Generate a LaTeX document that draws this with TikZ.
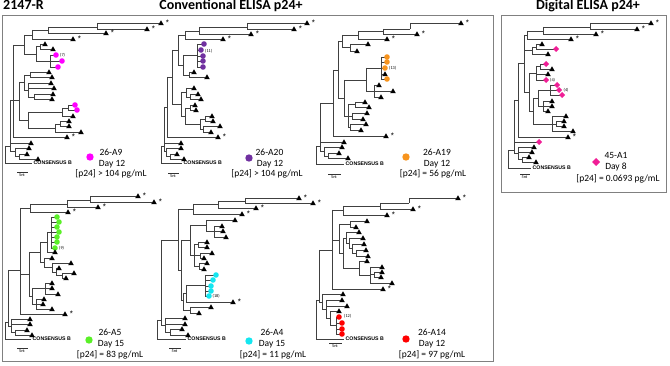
\documentclass[tikz,border=0pt]{standalone}
\usepackage{fontspec}
\setmainfont{Carlito}
\newfontfamily\arialf{Liberation Sans}
\definecolor{mag}{RGB}{255,0,255}
\definecolor{purp}{RGB}{112,48,160}
\definecolor{orng}{RGB}{247,148,30}
\definecolor{grn}{RGB}{90,240,40}
\definecolor{cyn}{RGB}{20,230,240}
\definecolor{rd}{RGB}{255,0,0}
\definecolor{dpink}{RGB}{240,30,150}
\newcounter{nd}
\newcommand\nm{\stepcounter{nd}}
\newcommand\trV[3]{\draw[br] (#1,#2) -- (#1,#3);}
\newcommand\trH[3]{\draw[br] (#1,#3) -- (#2,#3);}
\newcommand\mkT[2]{\fill[black] (#1,#2) ++(-2.8,2.2) -- ++(5.6,0) -- ++(-2.8,-4.9) -- cycle;}
\newcommand\lfT[3]{\draw[br] (#1,#2) -- (#3-2.5,#2);\mkT{#3}{#2}}
\newcommand\lfS[3]{\lfT{#1}{#2}{#3}\nm\node[st] (s\arabic{nd}) at (#3+6.5,#2-0.6) {*};}
\newcommand\lfC[4]{\draw[br] (#1,#2) -- (#3-2.5,#2);\fill[#4] (#3,#2) circle (2.8);}
\newcommand\lfD[3]{\draw[br] (#1,#2) -- (#3-2.5,#2);\fill[dpink] (#3,#2) ++(0,-3) -- ++(3,3) -- ++(-3,3) -- ++(-3,-3) -- cycle;}
\newcommand\cons[3]{\trH{#1}{#2}{#3}\nm\node[cons] (c\arabic{nd}) at (#2+1.5,#3) {CONSENSUS B};}
\newcommand\sbar[3]{\draw[black!80,line width=0.5pt] (#1,#3+1.2) -- (#1,#3) -- (#2,#3) -- (#2,#3+1.2);\nm\node[tinyl] (b\arabic{nd}) at ({(#1+#2)/2},#3+3) {5nt};}
\newcommand\cnt[3]{\nm\node[tinyl,anchor=west] (k\arabic{nd}) at (#1,#2) {#3};}
\tikzset{
 br/.style={draw=black!75, line width=0.65pt},
 st/.style={inner sep=0pt, font=\arialf\fontsize{8}{8}\selectfont},
 tinyl/.style={inner sep=0pt, font=\fontsize{4.3}{4.3}\selectfont},
 cons/.style={inner sep=0pt, anchor=west, font=\arialf\fontsize{5.2}{5.2}\selectfont\bfseries},
 leg/.style={inner sep=0pt, anchor=base, font=\fontsize{9.5}{10}\selectfont},
 ttl/.style={inner sep=0pt, anchor=base, font=\fontsize{14}{14}\selectfont\bfseries},
 frame/.style={draw=black!50, line width=1pt},
}
\begin{document}
\begin{tikzpicture}[x=1pt,y=-1pt]
\useasboundingbox (0,0) rectangle (670,366);
\draw[frame] (2,16) rectangle (493,362);
\draw[frame] (501,16) rectangle (666,193);
\node[ttl] (t1) at (23.5,10) {2147-R};
\node[ttl] (t2) at (231,10) {Conventional ELISA p24+};
\node[ttl] (t3) at (588,10) {Digital ELISA p24+};
% ---------- Panel A : 26-A9
\trV{97}{23}{29}\lfS{97}{23}{161}\lfS{97}{29}{147}
\trV{48}{27}{33}\trH{48}{97}{27}\lfS{48}{33}{106}
\trV{32}{30}{39}\trH{32}{48}{30}\lfS{32}{39}{73}
\trV{40}{44}{49}\lfT{40}{44}{45}\lfT{40}{49}{53}
\trV{50}{55}{67}\lfC{50}{55}{56}{mag}\lfC{50}{61}{62}{mag}\lfC{50}{67}{58}{mag}
\cnt{60}{55}{(7)}
\trV{36}{46}{61}\trH{36}{40}{46}\trH{36}{50}{61}
\trV{24}{35}{54}\trH{24}{32}{35}\trH{24}{36}{54}
\trV{30}{72}{77}\lfT{30}{72}{49}\lfT{30}{77}{52}
\trV{34}{94}{99}\lfT{34}{94}{53}\lfT{34}{99}{52}
\trV{28}{83}{97}\lfT{28}{83}{51}\lfT{28}{88}{54}\trH{28}{34}{97}
\trV{24}{75}{90}\trH{24}{30}{75}\trH{24}{28}{90}
\trV{68}{105}{110}\lfC{68}{105}{75}{mag}\lfC{68}{110}{77}{mag}
\trV{62}{108}{116}\trH{62}{68}{108}\lfT{62}{116}{73}
\trV{60}{121}{126}\lfT{60}{121}{69}\lfT{60}{126}{69}
\trV{55}{124}{132}\trH{55}{60}{124}\lfT{55}{132}{81}
\trV{28}{112}{128}\trH{28}{62}{112}\trH{28}{55}{128}
\trV{19}{82}{120}\trH{19}{24}{82}\trH{19}{28}{120}
\trV{13}{45}{137}\trH{13}{24}{45}\trH{13}{19}{100}\lfS{13}{137}{67}
\trV{19}{154}{159}\lfT{19}{154}{27}\lfT{19}{159}{38}
\trV{15}{148}{156}\lfT{15}{148}{29}\trH{15}{19}{156}
\trV{10}{100}{151}\trH{10}{13}{100}\lfT{10}{143}{31}\trH{10}{15}{151}
\trV{5}{146}{163}\trH{5}{10}{146}\cons{5}{32}{163}
\sbar{17}{27}{172}
\fill[mag] (90,157) circle (3.7);
\node[leg] (a1) at (111,156) {26-A9};
\node[leg] (a2) at (112,166.5) {Day 12};
\node[leg] (a3) at (111,177) {[p24] > 104 pg/mL};
% ---------- Panel B : 26-A20
\trV{247}{23}{29}\lfS{247}{23}{307}\lfS{247}{29}{294}
\trV{199}{27}{34}\trH{199}{247}{27}\lfS{199}{34}{251}
\trV{185}{31}{39}\trH{185}{199}{31}\lfS{185}{39}{223}
\trV{197}{44}{67}\lfC{197}{44}{204}{purp}\lfC{197}{50}{201}{purp}\lfC{197}{56}{203}{purp}\lfC{197}{61}{203}{purp}\lfC{197}{67}{203}{purp}
\cnt{205}{51}{(11)}
\trV{189}{72}{77}\lfT{189}{72}{194}\lfT{189}{77}{207}
\trV{183}{55}{75}\trH{183}{197}{55}\trH{183}{189}{75}
\trV{190}{94}{99}\lfT{190}{94}{198}\lfT{190}{99}{201}
\trV{186}{88}{97}\lfT{186}{88}{194}\trH{186}{190}{97}
\trV{190}{105}{110}\lfT{190}{105}{195}\lfT{190}{110}{196}
\trV{205}{116}{121}\lfT{205}{116}{212}\lfT{205}{121}{213}
\trV{203}{126}{132}\lfT{203}{126}{220}\lfT{203}{132}{211}
\trV{200}{119}{129}\trH{200}{205}{119}\trH{200}{203}{129}
\trV{185}{108}{124}\trH{185}{190}{108}\trH{185}{200}{124}
\trV{181}{92}{116}\trH{181}{186}{92}\trH{181}{185}{116}
\trV{178}{35}{65}\trH{178}{185}{35}\trH{178}{183}{65}
\trV{172}{50}{104}\trH{172}{178}{50}\trH{172}{181}{104}
\trV{167}{77}{137}\trH{167}{172}{77}\lfS{167}{137}{218}
\trV{170}{154}{159}\lfT{170}{154}{177}\lfT{170}{159}{184}
\trV{166}{148}{156}\lfT{166}{148}{181}\trH{166}{170}{156}
\trV{164}{107}{151}\trH{164}{167}{107}\lfT{164}{143}{181}\trH{164}{166}{151}
\trV{161}{146}{163}\trH{161}{164}{146}\cons{161}{182}{163}
\sbar{168}{178}{173}
\fill[purp] (249,158) circle (3.7);
\node[leg] (b1) at (269.5,156) {26-A20};
\node[leg] (b2) at (270,166.5) {Day 12};
\node[leg] (b3) at (267,177) {[p24] > 104 pg/mL};
% ---------- Panel C : 26-A19
\trH{383}{410}{29}\trV{410}{23}{29}\lfS{410}{23}{461}
\trV{383}{29}{34}\lfS{383}{34}{417}
\trV{358}{31}{39}\trH{358}{383}{31}\lfS{358}{39}{387}
\trV{350}{44}{51}\lfT{350}{44}{368}\lfT{350}{51}{357}
\trV{342}{35}{47}\trH{342}{358}{35}\trH{342}{350}{47}
\trV{381}{57}{79}\lfC{381}{57}{387}{orng}\lfC{381}{62}{387}{orng}\lfC{381}{68}{385}{orng}\lfT{381}{74}{385}\lfC{381}{79}{387}{orng}
\cnt{389}{68}{(13)}
\trV{374}{85}{97}\lfT{374}{85}{379}\lfT{374}{91}{393}\lfT{374}{97}{381}
\trV{366}{68}{91}\trH{366}{381}{68}\trH{366}{374}{91}
\trV{355}{102}{107}\lfT{355}{102}{365}\lfT{355}{107}{369}
\trV{352}{113}{119}\lfT{352}{113}{367}\lfT{352}{119}{363}
\trV{350}{124}{130}\lfT{350}{124}{366}\lfT{350}{130}{361}
\trV{348}{104}{127}\trH{348}{355}{104}\trH{348}{352}{116}\trH{348}{350}{127}
\trV{344}{80}{116}\trH{344}{366}{80}\trH{344}{348}{116}
\trV{338}{41}{98}\trH{338}{342}{41}\trH{338}{344}{98}
\trV{333}{70}{136}\trH{333}{338}{70}\lfS{333}{136}{386}
\trV{328}{153}{158}\lfT{328}{153}{339}\lfT{328}{158}{348}
\trV{324}{147}{156}\lfT{324}{147}{342}\trH{324}{328}{156}
\trV{320}{103}{151}\trH{320}{333}{103}\lfT{320}{142}{344}\trH{320}{324}{151}
\trV{316}{146}{164}\trH{316}{320}{146}\cons{316}{344}{164}
\sbar{328}{340}{174}
\fill[orng] (406,157) circle (3.7);
\node[leg] (c1) at (437,156) {26-A19};
\node[leg] (c2) at (437,166.5) {Day 12};
\node[leg] (c3) at (433,177) {[p24] = 56 pg/mL};
% ---------- Panel D : 26-A5
\trV{90}{196}{202}\lfS{90}{196}{138}\lfS{90}{202}{154}
\trV{67}{200}{207}\trH{67}{90}{200}\lfS{67}{207}{98}
\trV{30}{204}{212}\trH{30}{67}{204}\lfS{30}{212}{68}
\trV{51}{217}{248}\lfC{51}{217}{57}{grn}\lfC{51}{222}{59}{grn}\lfC{51}{227}{57}{grn}\lfC{51}{232}{59}{grn}\lfC{51}{237}{57}{grn}\lfC{51}{242}{57}{grn}\lfC{51}{248}{55}{grn}
\cnt{59}{248}{(9)}
\trV{47}{232}{252}\trH{47}{51}{232}\lfT{47}{252}{55}
\trV{62}{273}{278}\lfT{62}{273}{74}\lfT{62}{278}{66}
\trV{56}{268}{275}\lfT{56}{268}{59}\trH{56}{62}{275}
\trV{52}{263}{272}\lfT{52}{263}{71}\trH{52}{56}{272}
\trV{44}{258}{267}\lfT{44}{258}{52}\trH{44}{52}{267}
\trV{40}{242}{262}\trH{40}{47}{242}\trH{40}{44}{262}
\trV{45}{283}{294}\lfT{45}{283}{52}\lfT{45}{288}{52}\lfT{45}{294}{58}
\trV{36}{299}{309}\lfT{36}{299}{44}\lfT{36}{304}{43}\lfT{36}{309}{52}
\trV{32}{288}{304}\trH{32}{45}{288}\trH{32}{36}{304}
\trV{29}{252}{296}\trH{29}{40}{252}\trH{29}{32}{296}
\trV{20}{208}{314}\trH{20}{30}{208}\trH{20}{29}{274}\lfS{20}{314}{65}
\trV{15}{330}{335}\lfT{15}{330}{27}\lfT{15}{335}{32}
\trV{11}{319}{332}\lfT{11}{319}{30}\lfT{11}{324}{30}\trH{11}{15}{332}
\trV{8}{270}{326}\trH{8}{20}{270}\trH{8}{11}{326}
\trV{5}{322}{339}\trH{5}{8}{322}\cons{5}{31}{339}
\sbar{17}{27}{348}
\fill[grn] (89,340) circle (3.7);
\node[leg] (d1) at (110,336) {26-A5};
\node[leg] (d2) at (111,347) {Day 15};
\node[leg] (d3) at (110,358) {[p24] = 83 pg/mL};
% ---------- Panel E : 26-A4
\trV{245}{198}{203}\lfS{245}{198}{299}\lfS{245}{203}{313}
\trV{218}{201}{208}\trH{218}{245}{201}\lfS{218}{208}{256}
\trV{193}{204}{214}\trH{193}{218}{204}\lfS{193}{214}{242}
\trV{214}{226}{237}\lfT{214}{226}{222}\lfT{214}{231}{223}\lfT{214}{237}{226}
\trV{206}{220}{231}\lfT{206}{220}{235}\trH{206}{214}{231}
\trV{198}{242}{247}\lfT{198}{242}{207}\lfT{198}{247}{207}
\trV{200}{253}{258}\lfT{200}{253}{212}\lfT{200}{258}{204}
\trV{199}{263}{269}\lfT{199}{263}{207}\lfT{199}{269}{204}
\trV{194}{244}{266}\trH{194}{198}{244}\trH{194}{200}{255}\trH{194}{199}{266}
\trV{190}{225}{255}\trH{190}{206}{225}\trH{190}{194}{255}
\trV{205}{275}{296}\lfC{205}{275}{216}{cyn}\lfC{205}{280}{213}{cyn}\lfC{205}{286}{211}{cyn}\lfC{205}{291}{211}{cyn}\lfC{205}{296}{209}{cyn}
\cnt{212.5}{296}{(18)}
\trV{186}{285}{302}\trH{186}{205}{285}\lfS{186}{302}{233}
\trV{190}{307}{313}\lfT{190}{307}{211}\lfT{190}{313}{199}
\trV{183}{293}{310}\trH{183}{186}{293}\trH{183}{190}{310}
\trV{181}{240}{300}\trH{181}{190}{240}\trH{181}{183}{300}
\trV{178}{209}{270}\trH{178}{193}{209}\trH{178}{181}{270}
\trV{170}{329}{335}\lfT{170}{329}{182}\lfT{170}{335}{188}
\trV{165}{318}{332}\lfT{165}{318}{185}\lfT{165}{324}{185}\trH{165}{170}{332}
\trV{161}{240}{325}\trH{161}{178}{240}\trH{161}{165}{325}
\trV{157}{320}{339}\trH{157}{161}{320}\cons{157}{186}{339}
\sbar{169}{180}{348}
\fill[cyn] (249,341) circle (3.7);
\node[leg] (e1) at (272,336) {26-A4};
\node[leg] (e2) at (272,347) {Day 15};
\node[leg] (e3) at (273,358) {[p24] = 11 pg/mL};
% ---------- Panel F : 26-A14
\trV{409}{198}{203}\lfS{409}{198}{458}\trH{380}{409}{203}
\trV{380}{203}{209}\lfS{380}{209}{413}
\trV{343}{206}{215}\trH{343}{380}{206}\lfS{343}{215}{387}
\trV{350}{221}{227}\lfT{350}{221}{367}\lfT{350}{227}{356}
\trV{356}{250}{256}\lfT{356}{250}{366}\lfT{356}{256}{368}
\trV{352}{244}{253}\lfT{352}{244}{364}\trH{352}{356}{253}
\trV{349}{238}{248}\lfT{349}{238}{363}\trH{349}{352}{248}
\trV{346}{232}{243}\lfT{346}{232}{359}\trH{346}{349}{243}
\trV{374}{272}{277}\lfT{374}{272}{382}\lfT{374}{277}{381}
\trV{370}{267}{283}\lfT{370}{267}{382}\trH{370}{374}{274}\lfT{370}{283}{392}
\trV{359}{261}{275}\lfT{359}{261}{367}\trH{359}{370}{275}
\trV{343}{238}{268}\trH{343}{346}{238}\trH{343}{359}{268}
\trV{339}{224}{253}\trH{339}{350}{224}\trH{339}{343}{253}
\trV{332}{210}{289}\trH{332}{343}{210}\trH{332}{339}{240}\lfS{332}{289}{383}
\trV{336}{317}{334}\lfC{336}{317}{339}{rd}\lfC{336}{323}{342}{rd}\lfC{336}{329}{342}{rd}\lfC{336}{334}{342}{rd}
\cnt{344}{316}{(12)}
\trV{330}{311}{325}\lfT{330}{311}{339}\trH{330}{336}{325}
\trV{326}{300}{318}\lfT{326}{300}{342}\lfT{326}{306}{347}\trH{326}{330}{318}
\trV{322}{294}{309}\lfT{322}{294}{343}\trH{322}{326}{309}
\trV{319}{250}{302}\trH{319}{332}{250}\trH{319}{322}{302}
\trV{316}{300}{339}\trH{316}{319}{300}\cons{316}{344}{339}
\sbar{329}{341}{343}
\fill[rd] (406,339) circle (3.7);
\node[leg] (f1) at (432,335) {26-A14};
\node[leg] (f2) at (432,346) {Day 12};
\node[leg] (f3) at (432,357) {[p24] = 97 pg/mL};
% ---------- Panel G : 45-A1 (digital)
\trV{590}{23}{29}\lfS{590}{23}{651}\lfS{590}{29}{637}
\trV{543}{27}{34}\trH{543}{590}{27}\lfS{543}{34}{596}
\trV{527}{31}{39}\trH{527}{543}{31}\lfS{527}{39}{571}
\trV{536}{44}{49}\lfT{536}{44}{542}\lfD{536}{49}{556}
\trV{532}{47}{54}\trH{532}{536}{47}\lfT{532}{54}{548}
\trV{540}{64}{69}\lfD{540}{64}{546}\lfT{540}{69}{552}
\trV{536}{66}{80}\trH{536}{540}{66}\lfT{536}{74}{548}\lfD{536}{80}{546}
\cnt{550}{80}{(4)}
\trV{550}{85}{95}\lfD{550}{85}{557}\lfD{550}{90}{559}\lfD{550}{95}{562}
\cnt{563.5}{90}{(4)}
\trV{543}{101}{111}\lfT{543}{101}{552}\lfT{543}{106}{552}\lfT{543}{111}{548}
\trV{538}{90}{106}\trH{538}{550}{90}\trH{538}{543}{106}
\trV{556}{121}{126}\lfT{556}{121}{564}\lfT{556}{126}{564}
\trV{552}{116}{131}\lfT{552}{116}{566}\trH{552}{556}{124}\lfT{552}{131}{573}
\trV{533}{98}{124}\trH{533}{538}{98}\trH{533}{552}{124}
\trV{529}{73}{111}\trH{529}{536}{73}\trH{529}{533}{111}
\trV{524}{35}{92}\trH{524}{527}{35}\trH{524}{532}{50}\trH{524}{529}{92}
\trV{518}{63}{137}\trH{518}{524}{63}\lfS{518}{137}{568}
\trV{522}{157}{162}\lfT{522}{157}{529}\lfT{522}{162}{536}
\trV{518}{147}{159}\lfT{518}{147}{534}\lfT{518}{152}{532}\trH{518}{522}{159}
\trV{514}{100}{153}\trH{514}{518}{100}\lfD{514}{142}{539}\trH{514}{518}{153}
\trV{508}{150}{168}\trH{508}{514}{150}\cons{508}{531}{168}
\sbar{520}{529}{174}
\fill[dpink] (596,162) ++(0,-4) -- ++(4,4) -- ++(-4,4) -- ++(-4,-4) -- cycle;
\node[leg] (g1) at (616,159) {45-A1};
\node[leg] (g2) at (616,170) {Day 8};
\node[leg] (g3) at (618,181.5) {[p24] = 0.0693 pg/mL};
\end{tikzpicture}
\end{document}
